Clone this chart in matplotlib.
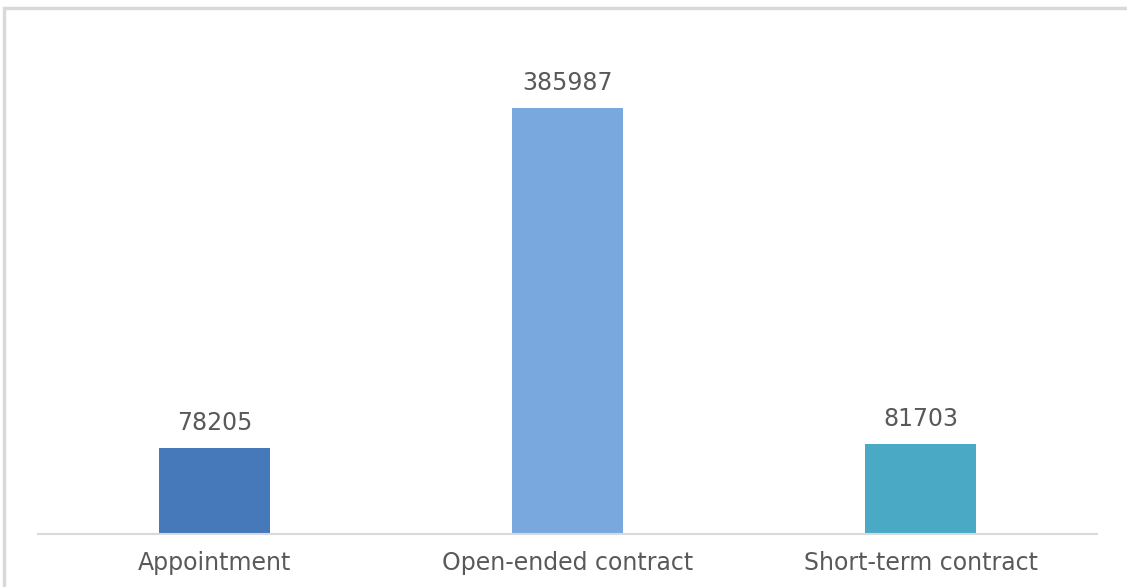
import matplotlib.pyplot as plt
from matplotlib.patches import Rectangle

categories = ["Appointment", "Open-ended contract", "Short-term contract"]
values = [78205, 385987, 81703]
colors = ["#4679B9", "#79A8DF", "#4AA9C5"]

fig = plt.figure(figsize=(11.27, 5.87), dpi=100)
plt.rcParams['font.family'] = ['DejaVu Sans']

# light grey frame of the chart area (only left and top visible in crop)
fig.patches.append(Rectangle((4 / 1127, -0.1), 1.2, (587 - 8) / 587 + 0.1,
                             transform=fig.transFigure, fill=False,
                             edgecolor="#D9D9D9", linewidth=2.5))

ax = fig.add_axes([38 / 1127, (587 - 534) / 587, (1097 - 38) / 1127, 497 / 587])
x = range(len(categories))
bars = ax.bar(x, values, width=0.314, color=colors)

ax.set_xlim(-0.5, 2.5)
ax.set_ylim(0, 450000)
for s in ["top", "right", "left"]:
    ax.spines[s].set_visible(False)
ax.spines["bottom"].set_color("#D9D9D9")
ax.spines["bottom"].set_linewidth(1.5)
ax.set_yticks([])
ax.set_xticks(list(x))
ax.set_xticklabels(categories, fontsize=17, color="#595959")
ax.tick_params(axis="x", length=0, pad=12.5)

for b, v in zip(bars, values):
    ax.annotate(str(v), (b.get_x() + b.get_width() / 2, v),
                xytext=(0, 9), textcoords="offset points",
                ha="center", va="bottom", fontsize=17, color="#595959")

plt.savefig("out.png", dpi=100)
plt.close()
